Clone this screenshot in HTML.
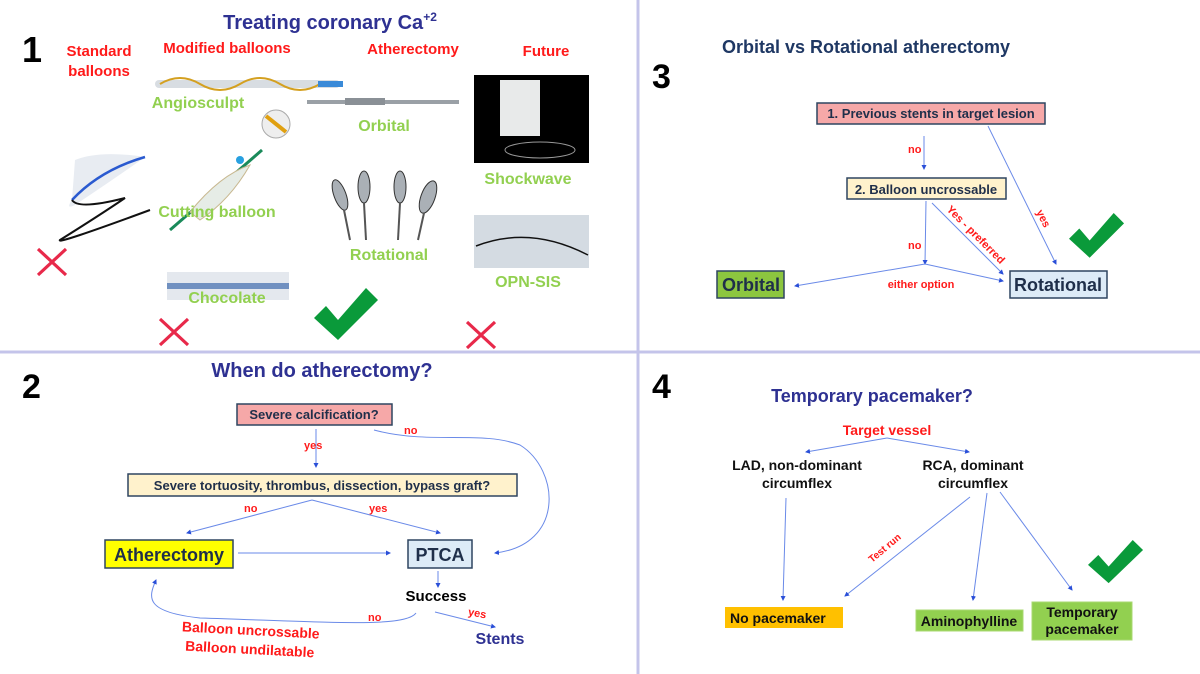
<!DOCTYPE html>
<html><head><meta charset="utf-8"><style>
html,body{margin:0;padding:0;background:#fff}
svg{display:block}
text{font-family:"Liberation Sans",Arial,sans-serif;font-weight:bold}
</style></head><body>
<svg width="1200" height="674" viewBox="0 0 1200 674" xmlns="http://www.w3.org/2000/svg">
<defs>
<marker id="a" markerWidth="5" markerHeight="5" refX="4" refY="2.5" orient="auto" markerUnits="userSpaceOnUse"><path d="M0,0 L5,2.5 L0,5 z" fill="#2a4fd8"/></marker>
<g id="chk"><path d="M0,30 L12,18 L24,32 L52,0 L64,12 L24,52 z" fill="#0a9a3a"/></g>
<g id="x"><path d="M0,0 L28,26 M28,0 L0,26" stroke="#e8294a" stroke-width="3.2"/></g>
</defs>
<rect width="1200" height="674" fill="#fff"/>
<line x1="638" y1="0" x2="638" y2="674" stroke="#c4c4ea" stroke-width="3"/>
<line x1="0" y1="352" x2="1200" y2="352" stroke="#c4c4ea" stroke-width="3"/>

<!-- Q1 -->
<text x="22" y="62" font-size="36" fill="#000">1</text>
<text x="330" y="29" font-size="20" fill="#2e3192" text-anchor="middle">Treating coronary Ca<tspan font-size="12" dy="-8">+2</tspan></text>
<g font-size="15" fill="#ff1a1a" text-anchor="middle">
<text x="99" y="56">Standard</text><text x="99" y="76">balloons</text>
<text x="227" y="53">Modified balloons</text>
<text x="413" y="54">Atherectomy</text>
<text x="546" y="56">Future</text>
</g>
<!-- angiosculpt -->
<rect x="155" y="80" width="185" height="8" rx="4" fill="#d8dde2"/>
<path d="M160,84 Q180,72 200,84 T240,84 T280,84 T320,84" stroke="#d4a020" stroke-width="2" fill="none"/>
<rect x="318" y="81" width="25" height="6" fill="#3a8ad8"/>
<circle cx="276" cy="124" r="14" fill="#eee" stroke="#aaa"/>
<line x1="266" y1="116" x2="286" y2="132" stroke="#e0a010" stroke-width="4"/>
<!-- orbital -->
<rect x="307" y="100" width="152" height="4" fill="#9aa0a6"/>
<rect x="345" y="98" width="40" height="7" fill="#8a9096"/>
<!-- standard balloon -->
<path d="M75,160 Q100,150 145,157 Q120,175 75,205 Q65,210 72,200 Z" fill="#e8ecf2"/>
<path d="M72,200 Q100,170 145,157" stroke="#2a5ad0" stroke-width="2.5" fill="none"/>
<path d="M72,200 Q78,210 125,198 Q100,215 60,240 Q55,245 150,210" stroke="#111" stroke-width="2" fill="none"/>
<!-- cutting balloon -->
<path d="M170,230 L262,150" stroke="#1a8a5a" stroke-width="3"/>
<path d="M190,212 Q220,175 250,165 Q230,200 200,220 Z" fill="#e6ece6" stroke="#c8b890"/>
<circle cx="240" cy="160" r="4" fill="#28a0e0"/>
<!-- rotational burrs -->
<g fill="#aab0b6" stroke="#333" stroke-width="1">
<ellipse cx="340" cy="195" rx="6" ry="16" transform="rotate(-20 340 195)"/>
<ellipse cx="364" cy="187" rx="6" ry="16"/>
<ellipse cx="400" cy="187" rx="6" ry="16"/>
<ellipse cx="428" cy="197" rx="7" ry="17" transform="rotate(20 428 197)"/>
</g>
<g stroke="#555" stroke-width="2"><line x1="344" y1="210" x2="350" y2="240"/><line x1="364" y1="203" x2="366" y2="240"/><line x1="400" y1="203" x2="398" y2="240"/><line x1="424" y1="213" x2="418" y2="240"/></g>
<!-- chocolate -->
<rect x="167" y="272" width="122" height="28" fill="#e4e8ee"/>
<rect x="167" y="283" width="122" height="6" fill="#7090c0"/>
<!-- shockwave -->
<rect x="474" y="75" width="115" height="88" fill="#000"/>
<rect x="500" y="80" width="40" height="56" fill="#e8eaea"/>
<ellipse cx="540" cy="150" rx="35" ry="8" fill="none" stroke="#999"/>
<!-- opn -->
<rect x="474" y="215" width="115" height="53" fill="#d4dbe2"/>
<path d="M476,246 Q530,225 588,255" stroke="#111" stroke-width="1.5" fill="none"/>
<g font-size="16" fill="#92d050" text-anchor="middle">
<text x="198" y="108">Angiosculpt</text>
<text x="384" y="131">Orbital</text>
<text x="217" y="217">Cutting balloon</text>
<text x="389" y="260">Rotational</text>
<text x="227" y="303">Chocolate</text>
<text x="528" y="184">Shockwave</text>
<text x="528" y="287">OPN-SIS</text>
</g>
<use href="#x" x="38" y="249"/><use href="#x" x="160" y="319"/><use href="#x" x="467" y="322"/>
<use href="#chk" transform="translate(314,288) scale(1,1)"/>

<!-- Q3 -->
<text x="652" y="88" font-size="34" fill="#000">3</text>
<text x="866" y="53" font-size="18" fill="#1f3864" text-anchor="middle">Orbital vs Rotational atherectomy</text>
<g stroke="#2f4560" stroke-width="1.5">
<rect x="817" y="103" width="228" height="21" fill="#f6a8a8"/>
<rect x="847" y="178" width="159" height="21" fill="#fff2cc"/>
<rect x="717" y="271" width="67" height="27" fill="#8cc63f"/>
<rect x="1010" y="271" width="97" height="27" fill="#ddebf7"/>
</g>
<g font-size="13" fill="#1f2f4a" text-anchor="middle">
<text x="931" y="118">1. Previous stents in target lesion</text>
<text x="926" y="194">2. Balloon uncrossable</text>
</g>
<text x="751" y="291" font-size="18" fill="#1f2f4a" text-anchor="middle">Orbital</text>
<text x="1058" y="291" font-size="18" fill="#1f2f4a" text-anchor="middle">Rotational</text>
<g stroke="#6a8ae8" stroke-width="1" fill="none" marker-end="url(#a)">
<line x1="924" y1="136" x2="924" y2="169"/>
<line x1="926" y1="201" x2="925" y2="264"/>
<line x1="925" y1="264" x2="795" y2="286"/>
<line x1="925" y1="264" x2="1003" y2="281"/>
<line x1="932" y1="203" x2="1003" y2="274"/>
<line x1="988" y1="126" x2="1056" y2="264"/>
</g>
<g font-size="11" fill="#ff1a1a">
<text x="908" y="153">no</text>
<text x="908" y="249">no</text>
<text x="921" y="288" text-anchor="middle">either option</text>
<text x="0" y="0" transform="translate(946,210) rotate(45)">Yes - preferred</text>
<text x="0" y="0" transform="translate(1036,212) rotate(63)">yes</text>
</g>
<use href="#chk" transform="translate(1069,213) scale(0.86)"/>

<!-- Q2 -->
<text x="22" y="398" font-size="34" fill="#000">2</text>
<text x="322" y="377" font-size="20" fill="#2e3192" text-anchor="middle">When do atherectomy?</text>
<g stroke="#2f4560" stroke-width="1.5">
<rect x="237" y="404" width="155" height="21" fill="#f6a8a8"/>
<rect x="128" y="474" width="389" height="22" fill="#fff2cc"/>
<rect x="105" y="540" width="128" height="28" fill="#ffff00"/>
<rect x="408" y="540" width="64" height="28" fill="#ddebf7"/>
</g>
<g font-size="13" fill="#1f2f4a" text-anchor="middle">
<text x="314" y="419">Severe calcification?</text>
<text x="322" y="490">Severe tortuosity, thrombus, dissection, bypass graft?</text>
</g>
<text x="169" y="561" font-size="18" fill="#1f2f4a" text-anchor="middle">Atherectomy</text>
<text x="440" y="561" font-size="18" fill="#1f2f4a" text-anchor="middle">PTCA</text>
<g stroke="#6a8ae8" stroke-width="1" fill="none" marker-end="url(#a)">
<line x1="316" y1="429" x2="316" y2="467"/>
<line x1="312" y1="500" x2="187" y2="533"/>
<line x1="312" y1="500" x2="440" y2="533"/>
<line x1="238" y1="553" x2="390" y2="553"/>
<path d="M374,430 C430,445 480,430 520,445 C560,470 565,545 495,553"/>
<line x1="438" y1="571" x2="438" y2="587"/>
<line x1="435" y1="612" x2="495" y2="627"/>
<path d="M416,613 C405,628 330,622 200,618 C145,612 148,598 156,580"/>
</g>
<g font-size="11" fill="#ff1a1a">
<text x="304" y="449">yes</text>
<text x="404" y="434">no</text>
<text x="244" y="512">no</text>
<text x="369" y="512">yes</text>
<text x="368" y="621">no</text>
<text x="468" y="617" transform="rotate(10 478 614)">yes</text>
</g>
<text x="436" y="601" font-size="15" fill="#000" text-anchor="middle">Success</text>
<text x="500" y="644" font-size="16" fill="#2e3192" text-anchor="middle">Stents</text>
<g font-size="14" fill="#ff1a1a" text-anchor="middle" transform="rotate(3 250 645)">
<text x="250" y="635">Balloon uncrossable</text>
<text x="250" y="654">Balloon undilatable</text>
</g>

<!-- Q4 -->
<text x="652" y="398" font-size="34" fill="#000">4</text>
<text x="872" y="402" font-size="18" fill="#2e3192" text-anchor="middle">Temporary pacemaker?</text>
<text x="887" y="435" font-size="14" fill="#ff1a1a" text-anchor="middle">Target vessel</text>
<g font-size="14" fill="#111" text-anchor="middle">
<text x="797" y="470">LAD, non-dominant</text><text x="797" y="488">circumflex</text>
<text x="973" y="470">RCA, dominant</text><text x="973" y="488">circumflex</text>
</g>
<g stroke="#6a8ae8" stroke-width="1" fill="none" marker-end="url(#a)">
<line x1="887" y1="438" x2="806" y2="452"/>
<line x1="887" y1="438" x2="969" y2="452"/>
<line x1="786" y1="498" x2="783" y2="600"/>
<line x1="970" y1="497" x2="845" y2="596"/>
<line x1="987" y1="493" x2="973" y2="600"/>
<line x1="1000" y1="492" x2="1072" y2="590"/>
</g>
<text x="0" y="0" font-size="10" fill="#ff1a1a" transform="translate(872,563) rotate(-40)">Test run</text>
<rect x="725" y="607" width="118" height="21" fill="#ffc000"/>
<rect x="916" y="610" width="107" height="21" fill="#92d050" stroke="#a8d870"/>
<rect x="1032" y="602" width="100" height="38" fill="#92d050" stroke="#a8d870"/>
<g font-size="14" fill="#111">
<text x="730" y="623">No pacemaker</text>
<text x="969" y="626" text-anchor="middle">Aminophylline</text>
<text x="1082" y="617" text-anchor="middle">Temporary</text>
<text x="1082" y="634" text-anchor="middle">pacemaker</text>
</g>
<use href="#chk" transform="translate(1088,540) scale(0.86,0.83)"/>
</svg>
</body></html>
